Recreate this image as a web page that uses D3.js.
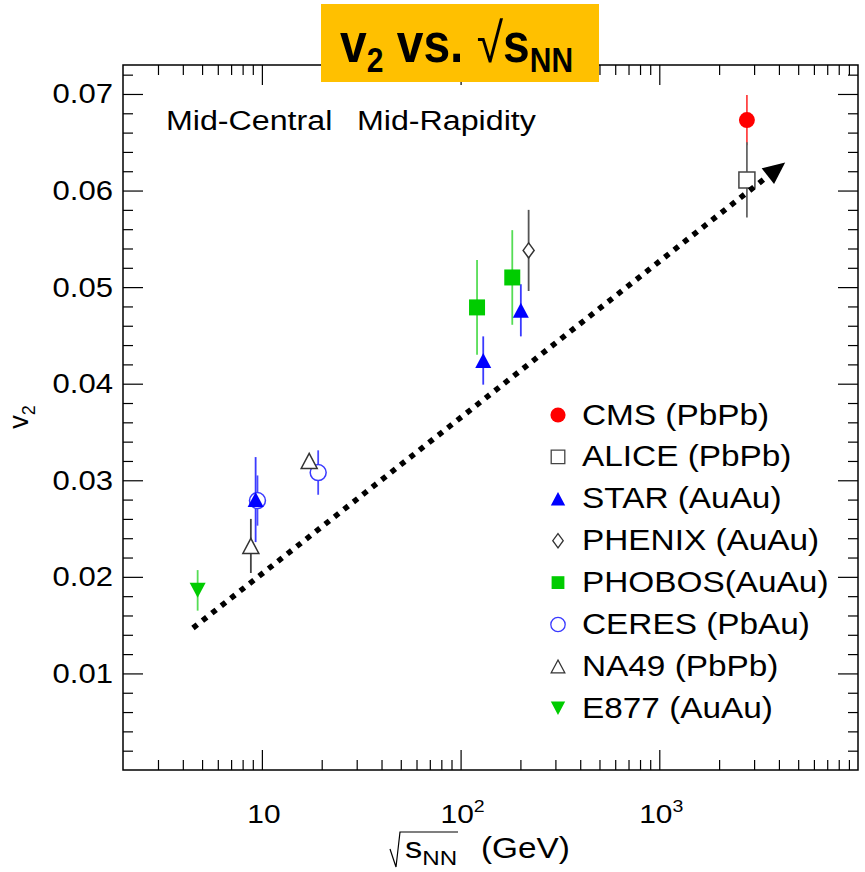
<!DOCTYPE html>
<html>
<head>
<meta charset="utf-8">
<script src="https://d3js.org/d3.v7.min.js"></script>
<style>
  body { margin: 0; background: #fff; }
  svg text { font-family: "Liberation Sans", Arial, Helvetica, sans-serif; fill: #000; }
</style>
</head>
<body>
<div id="chart"></div>
<script>
// sqrt(s_NN) in GeV, v2 and symmetric error
var cmsEnergy = [2760],            cmsV2 = [0.0673],                 cmsErr = [0.0026];
var aliceEnergy = [2760],          aliceV2 = [0.0611],               aliceErr = [0.0039];
var starEnergy = [9.3, 130, 201],  starV2 = [0.0280, 0.0424, 0.0476], starErr = [0.0044, 0.0025, 0.0027];
var phenixEnergy = [220],          phenixV2 = [0.0538],              phenixErr = [0.0042];
var phobosEnergy = [121, 182],     phobosV2 = [0.0479, 0.0510],      phobosErr = [0.0049, 0.0049];
var ceresEnergy = [9.5, 19.2],     ceresV2 = [0.0279, 0.0308],       ceresErr = [0.0026, 0.0023];
var na49Energy = [8.8, 17.3],      na49V2 = [0.0232, 0.0320],        na49Err = [0.0028, 0.0004];
var e877Energy = [4.75],           e877V2 = [0.0186],                e877Err = [0.0021];

// trend arrow (start, tip)
var arrowEnergy = [4.5, 4300];
var arrowV2 = [0.0147, 0.0629];

var legendLabels = ["CMS (PbPb)", "ALICE (PbPb)", "STAR (AuAu)", "PHENIX (AuAu)",
                    "PHOBOS(AuAu)", "CERES (PbAu)", "NA49 (PbPb)", "E877 (AuAu)"];

var xTickValues = [10, 100, 1000];
var xTickLabels = ["10", "10", "10"];
var xTickExponents = ["", "2", "3"];
var yTickValues = [0.01, 0.02, 0.03, 0.04, 0.05, 0.06, 0.07];
var yTickLabels = ["0.01", "0.02", "0.03", "0.04", "0.05", "0.06", "0.07"];

var width = 865, height = 872;
var frame = {left: 123, right: 858, top: 65, bottom: 770};
var stretch = "scale(1.15,1)";

var svg = d3.select("#chart").append("svg")
            .attr("width", width)
            .attr("height", height);

var x = d3.scaleLog().domain([2, 10000]).range([frame.left, frame.right]);
var y = d3.scaleLinear().domain([0, 0.073]).range([frame.bottom, frame.top]);

// marker shapes
function shapePath(shape, k) {
  if (shape == "circle") return d3.symbol(d3.symbolCircle, 200 * k * k)();
  if (shape == "square") return "M" + (-8 * k) + "," + (-8 * k) + "h" + (16 * k) + "v" + (16 * k) + "h" + (-16 * k) + "Z";
  if (shape == "triangle") return "M0," + (-7.5 * k) + "L" + (8 * k) + "," + (7.5 * k) + "L" + (-8 * k) + "," + (7.5 * k) + "Z";
  if (shape == "triangleDown") return "M0," + (7.5 * k) + "L" + (8 * k) + "," + (-7.5 * k) + "L" + (-8 * k) + "," + (-7.5 * k) + "Z";
  if (shape == "diamond") return "M0," + (-7.5 * k) + "L" + (5.5 * k) + ",0L0," + (7.5 * k) + "L" + (-5.5 * k) + ",0Z";
}

function zipSeries(e, v, err) {
  return e.map(function(d, i) { return {energy: d, v2: v[i], err: err[i]}; });
}

var series = [
  {name: legendLabels[0], points: zipSeries(cmsEnergy, cmsV2, cmsErr), shape: "circle", fill: "#ff0000", stroke: "none", errColor: "#ff4545", lk: 0.95},
  {name: legendLabels[1], points: zipSeries(aliceEnergy, aliceV2, aliceErr), shape: "square", fill: "#fff", stroke: "#444", errColor: "#666", lk: 0.85},
  {name: legendLabels[2], points: zipSeries(starEnergy, starV2, starErr), shape: "triangle", fill: "#0000ff", stroke: "none", errColor: "#3a3aff", lk: 0.9},
  {name: legendLabels[3], points: zipSeries(phenixEnergy, phenixV2, phenixErr), shape: "diamond", fill: "#fff", stroke: "#333", errColor: "#555", lk: 0.95},
  {name: legendLabels[4], points: zipSeries(phobosEnergy, phobosV2, phobosErr), shape: "square", fill: "#00cc00", stroke: "none", errColor: "#55dd55", lk: 0.8},
  {name: legendLabels[5], points: zipSeries(ceresEnergy, ceresV2, ceresErr), shape: "circle", fill: "#fff", stroke: "#3a3aff", errColor: "#4a4aff", lk: 0.9},
  {name: legendLabels[6], points: zipSeries(na49Energy, na49V2, na49Err), shape: "triangle", fill: "#fff", stroke: "#333", errColor: "#444", lk: 0.85},
  {name: legendLabels[7], points: zipSeries(e877Energy, e877V2, e877Err), shape: "triangleDown", fill: "#00cc00", stroke: "none", errColor: "#55dd55", lk: 0.9}
];

// ---- ticks (all four sides, pointing inward) ----
var xMinor = x.ticks().filter(function(d) { return xTickValues.indexOf(d) < 0 && d > 2 && d < 10000; });
var yMinor = d3.range(1, 37).filter(function(i) { return i % 5 != 0; }).map(function(i) { return i * 0.002; });

function tickAxis(axisFn, scale, values, size, transform) {
  svg.append("g")
     .attr("transform", transform)
     .call(axisFn(scale).tickValues(values).tickSize(size).tickFormat(""))
     .call(function(g) { g.select(".domain").remove(); })
     .selectAll("line").attr("stroke", "#000").attr("stroke-width", 1.2);
}
tickAxis(d3.axisBottom, x, xTickValues, -20, "translate(0," + frame.bottom + ")");
tickAxis(d3.axisBottom, x, xMinor, -10, "translate(0," + frame.bottom + ")");
tickAxis(d3.axisTop, x, xTickValues, -20, "translate(0," + frame.top + ")");
tickAxis(d3.axisTop, x, xMinor, -10, "translate(0," + frame.top + ")");
tickAxis(d3.axisLeft, y, yTickValues, -20, "translate(" + frame.left + ",0)");
tickAxis(d3.axisLeft, y, yMinor, -10, "translate(" + frame.left + ",0)");
tickAxis(d3.axisRight, y, yTickValues, -20, "translate(" + frame.right + ",0)");
tickAxis(d3.axisRight, y, yMinor, -10, "translate(" + frame.right + ",0)");

svg.append("rect")
   .attr("x", frame.left).attr("y", frame.top)
   .attr("width", frame.right - frame.left).attr("height", frame.bottom - frame.top)
   .attr("fill", "none").attr("stroke", "#000").attr("stroke-width", 1.5);

// ---- tick labels ----
svg.selectAll(".ylab").data(yTickValues).enter().append("text")
   .attr("class", "ylab")
   .attr("transform", function(d) { return "translate(113," + (y(d) + 9.5) + ") " + stretch; })
   .attr("text-anchor", "end")
   .attr("font-size", 27)
   .text(function(d, i) { return yTickLabels[i]; });

var xlab = svg.selectAll(".xlab").data(xTickValues).enter().append("text")
   .attr("class", "xlab")
   .attr("transform", function(d) { return "translate(" + (x(d) + 2) + ",823) " + stretch; })
   .attr("text-anchor", "middle")
   .attr("font-size", 26);
xlab.append("tspan").text(function(d, i) { return xTickLabels[i]; });
xlab.append("tspan").attr("font-size", 17).attr("dy", -11)
    .text(function(d, i) { return xTickExponents[i]; });

// ---- axis titles ----
var xt = svg.append("g");
xt.append("path")
  .attr("d", "M390,849L396,867L400,832H458")
  .attr("fill", "none").attr("stroke", "#000").attr("stroke-width", 1.2);
var xs = xt.append("text").attr("transform", "translate(405,858) " + stretch).attr("font-size", 30);
xs.append("tspan").text("s");
xs.append("tspan").attr("font-size", 21).attr("dy", 7).text("NN");
xt.append("text").attr("transform", "translate(481,858) " + stretch).attr("font-size", 29).text("(GeV)");

var yt = svg.append("text")
   .attr("transform", "translate(28,417) rotate(-90)")
   .attr("text-anchor", "middle")
   .attr("font-size", 27);
yt.append("tspan").text("v");
yt.append("tspan").attr("font-size", 18).attr("dy", 7).text("2");

svg.append("text").attr("transform", "translate(166,130) " + stretch).attr("font-size", 28).text("Mid-Central");
svg.append("text").attr("transform", "translate(357,130) " + stretch).attr("font-size", 28).text("Mid-Rapidity");

// ---- error bars ----
series.forEach(function(s) {
  svg.selectAll(null).data(s.points).enter().append("line")
     .attr("x1", function(d) { return x(d.energy); })
     .attr("x2", function(d) { return x(d.energy); })
     .attr("y1", function(d) { return y(d.v2 + d.err); })
     .attr("y2", function(d) { return y(d.v2 - d.err); })
     .attr("stroke", s.errColor)
     .attr("stroke-width", 1.8);
});

// ---- markers: open ones first, filled ones on top ----
var drawOrder = series.filter(function(s) { return s.fill == "#fff"; })
                      .concat(series.filter(function(s) { return s.fill != "#fff"; }));
drawOrder.forEach(function(s) {
  svg.selectAll(null).data(s.points).enter().append("path")
     .attr("d", shapePath(s.shape, 1))
     .attr("transform", function(d) { return "translate(" + x(d.energy) + "," + y(d.v2) + ")"; })
     .attr("fill", s.fill)
     .attr("stroke", s.stroke)
     .attr("stroke-width", 1.5);
});

// ---- dotted trend arrow ----
var ax0 = x(arrowEnergy[0]), ay0 = y(arrowV2[0]);
var ax1 = x(arrowEnergy[1]), ay1 = y(arrowV2[1]);
var len = Math.hypot(ax1 - ax0, ay1 - ay0);
var ux = (ax1 - ax0) / len, uy = (ay1 - ay0) / len;
var headLen = 22, headHalf = 10;
svg.append("line")
   .attr("x1", ax0).attr("y1", ay0)
   .attr("x2", ax1 - ux * headLen).attr("y2", ay1 - uy * headLen)
   .attr("stroke", "#000")
   .attr("stroke-width", 5.5)
   .attr("stroke-dasharray", "5.5,6.5");
var bx = ax1 - ux * headLen, by = ay1 - uy * headLen;
svg.append("path")
   .attr("d", "M" + ax1 + "," + ay1 +
              "L" + (bx - uy * headHalf) + "," + (by + ux * headHalf) +
              "L" + (bx + uy * headHalf) + "," + (by - ux * headHalf) + "Z")
   .attr("fill", "#000");

// ---- legend ----
var legend = svg.append("g").attr("transform", "translate(558,415)");
var rows = legend.selectAll("g").data(series).enter().append("g")
   .attr("transform", function(d, i) { return "translate(0," + (i * 41.9) + ")"; });
rows.append("path")
    .attr("d", function(d) { return shapePath(d.shape, d.lk); })
    .attr("fill", function(d) { return d.fill; })
    .attr("stroke", function(d) { return d.stroke; })
    .attr("stroke-width", 1.3);
rows.append("text")
    .attr("transform", "translate(24,9.5) " + stretch)
    .attr("font-size", 29)
    .text(function(d) { return d.name; });

// ---- title box ----
svg.append("rect")
   .attr("x", 321).attr("y", 4).attr("width", 278).attr("height", 78)
   .attr("fill", "#ffc000");
var title = svg.append("text")
   .attr("transform", "translate(340,62) scale(1,1.15)")
   .attr("font-size", 48)
   .attr("font-weight", "bold");
title.append("tspan").text("v");
title.append("tspan").attr("font-size", 30).attr("dy", 9).text("2");
title.append("tspan").attr("dy", -9).text(" vs. ");
title.append("tspan").attr("font-weight", "normal").text("\u221A");
title.append("tspan").text("s");
title.append("tspan").attr("font-size", 30).attr("dy", 9).text("NN");
</script>
</body>
</html>
